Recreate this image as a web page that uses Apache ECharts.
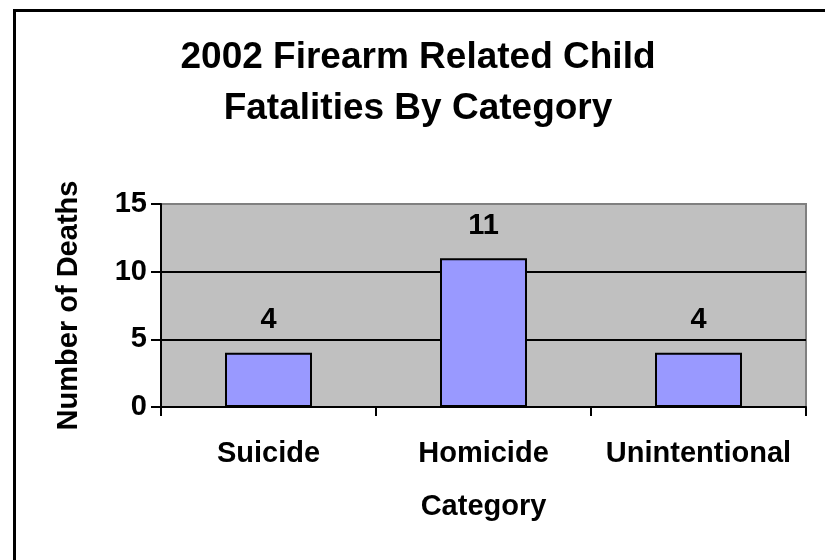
<!DOCTYPE html>
<html>
<head>
<meta charset="utf-8">
<script src="https://cdn.jsdelivr.net/npm/echarts@6/dist/echarts.min.js"></script>
<style>html,body{margin:0;padding:0;background:#fff}#c{width:825px;height:560px}</style>
</head>
<body>
<div id="c"></div>
<script>
const titleLines = ['2002 Firearm Related Child', 'Fatalities By Category'];
const categories = ['Suicide', 'Homicide', 'Unintentional'];
const deaths = [4, 11, 4];
const yTicks = [0, 5, 10, 15];
const yName = 'Number of Deaths';
const xName = 'Category';

const FONT = 'Arial, "Liberation Sans", sans-serif';
const chart = echarts.init(document.getElementById('c'), null, {renderer: 'canvas'});
chart.setOption({
  animation: false,
  backgroundColor: '#fff',
  graphic: [
    {type: 'rect', left: 12, top: 8, shape: {x: 0, y: 0, width: 900, height: 700},
      style: {fill: 'none', stroke: '#000', lineWidth: 3}, silent: true},
    {type: 'text', x: 418, y: 58, style: {text: titleLines[0], font: 'bold 37px ' + FONT, fill: '#000', align: 'center', verticalAlign: 'middle'}},
    {type: 'text', x: 418, y: 109, style: {text: titleLines[1], font: 'bold 37px ' + FONT, fill: '#000', align: 'center', verticalAlign: 'middle'}}
  ],
  grid: {left: 161, top: 204, right: 19, bottom: 153, show: true, backgroundColor: '#C0C0C0', borderColor: '#808080', borderWidth: 2},
  xAxis: {
    type: 'category', data: categories,
    name: xName, nameLocation: 'middle', nameGap: 85,
    nameTextStyle: {fontFamily: FONT, fontWeight: 'bold', fontSize: 29, color: '#000'},
    axisLine: {lineStyle: {color: '#000', width: 2}},
    axisTick: {show: true, interval: 0, alignWithLabel: false, length: 9, lineStyle: {color: '#000', width: 2}},
    axisLabel: {interval: 0, fontFamily: FONT, fontWeight: 'bold', fontSize: 29, color: '#000', margin: 32}
  },
  yAxis: {
    type: 'value', min: yTicks[0], max: yTicks[yTicks.length - 1], interval: yTicks[1] - yTicks[0],
    name: yName, nameLocation: 'middle', nameGap: 78, nameRotate: 90,
    nameTextStyle: {fontFamily: FONT, fontWeight: 'bold', fontSize: 29, color: '#000'},
    axisLine: {show: true, lineStyle: {color: '#000', width: 2}},
    axisTick: {show: true, length: 10, lineStyle: {color: '#000', width: 2}},
    axisLabel: {fontFamily: FONT, fontWeight: 'bold', fontSize: 29, color: '#000', margin: 14},
    splitLine: {show: true, showMaxLine: false, lineStyle: {color: '#000', width: 2}}
  },
  series: [{
    type: 'bar', data: deaths, barWidth: 87,
    itemStyle: {color: '#9999FF', borderColor: '#000', borderWidth: 2},
    label: {show: true, position: 'top', distance: 18, fontFamily: FONT, fontWeight: 'bold', fontSize: 29, color: '#000'}
  }]
});
</script>
</body>
</html>
